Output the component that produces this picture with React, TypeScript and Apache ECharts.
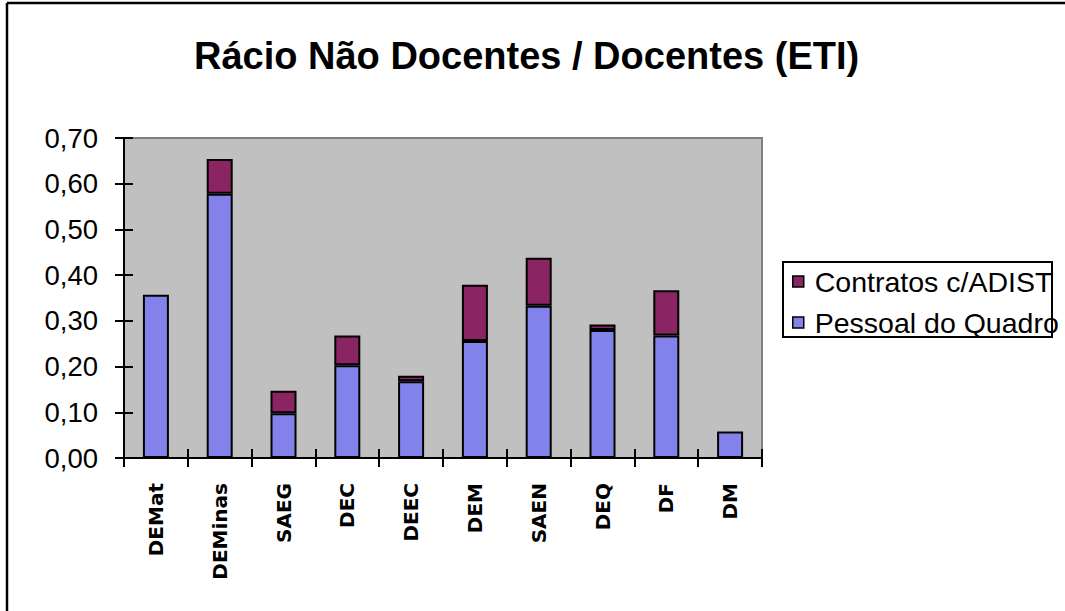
import React, { useEffect, useRef } from "react";
import * as echarts from "echarts";

const categories = ["DEMat", "DEMinas", "SAEG", "DEC", "DEEC", "DEM", "SAEN", "DEQ", "DF", "DM"];
const pessoalDoQuadro = [0.357, 0.578, 0.098, 0.203, 0.168, 0.256, 0.333, 0.28, 0.268, 0.058];
const contratosADIST = [0, 0.076, 0.049, 0.065, 0.012, 0.123, 0.105, 0.012, 0.099, 0];
const seriesNames = ["Contratos c/ADIST", "Pessoal do Quadro"];
const titleText = "Rácio Não Docentes / Docentes (ETI)";

const BLUE = "#8282ea";
const PURPLE = "#8b2463";
const FONT = "'Liberation Sans', Arial, sans-serif";

export default function App() {
  const ref = useRef<HTMLDivElement>(null);
  useEffect(() => {
    if (!ref.current) return;
    const chart = echarts.init(ref.current, null, { renderer: "svg" });
    const fmt = (v: number) => v.toFixed(2).replace(".", ",");
    chart.setOption({
      animation: false,
      backgroundColor: "#ffffff",
      textStyle: { fontFamily: FONT },
      title: {
        text: titleText,
        left: 194,
        top: 37,
        textStyle: { fontSize: 38, fontWeight: "bold", color: "#000", fontFamily: FONT },
        padding: 0,
      },
      graphic: [
        {
          type: "line",
          shape: { x1: 7, y1: 3, x2: 1065, y2: 3 },
          style: { stroke: "#000", lineWidth: 2.5 },
          z: 10,
        },
        {
          type: "line",
          shape: { x1: 7, y1: 3, x2: 7, y2: 611 },
          style: { stroke: "#000", lineWidth: 2.5 },
          z: 10,
        },
        {
          type: "rect",
          shape: { x: 783, y: 262, width: 269, height: 75 },
          style: { fill: "#fff", stroke: "#000", lineWidth: 2 },
          z: 1,
        },
      ],
      legend: {
        orient: "vertical",
        left: 792,
        top: 267,
        data: seriesNames,
        icon: "rect",
        itemWidth: 11,
        itemHeight: 11,
        itemGap: 12,
        z: 5,
        padding: 0,
        textStyle: { fontSize: 28.5, color: "#000", lineHeight: 28, padding: [0, 0, 0, 6], fontFamily: FONT },
        itemStyle: { borderColor: "#000", borderWidth: 1.5 },
      },
      grid: {
        left: 124,
        top: 138,
        width: 638,
        height: 320,
        show: true,
        backgroundColor: "#c0c0c0",
        borderColor: "#808080",
        borderWidth: 2,
      },
      xAxis: [
        {
          type: "category",
          data: categories,
          axisLine: { lineStyle: { color: "#000", width: 2 } },
          axisTick: { show: true, length: 9, lineStyle: { color: "#000", width: 2 } },
          axisLabel: {
            rotate: 90,
            margin: 25,
            fontSize: 20,
            fontWeight: "bold",
            color: "#000",
            fontFamily: "'DejaVu Sans', sans-serif",
            interval: 0,
          },
        },
        {
          type: "category",
          data: categories,
          position: "bottom",
          axisLine: { show: false },
          axisTick: { show: true, inside: true, length: 9, lineStyle: { color: "#000", width: 2 } },
          axisLabel: { show: false },
        },
      ],
      yAxis: [
        {
          type: "value",
          min: 0,
          max: 0.7,
          interval: 0.1,
          axisLine: { show: true, lineStyle: { color: "#000", width: 2 } },
          axisTick: { show: true, length: 9, lineStyle: { color: "#000", width: 2 } },
          splitLine: { show: false },
          axisLabel: { formatter: fmt, fontSize: 27.5, color: "#000", margin: 26 },
        },
        {
          type: "value",
          min: 0,
          max: 0.7,
          interval: 0.1,
          position: "left",
          axisLine: { show: false },
          axisTick: { show: true, inside: true, length: 9, lineStyle: { color: "#000", width: 2 } },
          splitLine: { show: false },
          axisLabel: { show: false },
        },
      ],
      series: [
        {
          name: seriesNames[1],
          type: "bar",
          stack: "total",
          data: pessoalDoQuadro,
          barWidth: 26,
          itemStyle: { color: BLUE, borderColor: "#000", borderWidth: 2 },
        },
        {
          name: seriesNames[0],
          type: "bar",
          stack: "total",
          data: contratosADIST.map((v) => (v > 0 ? v : null)),
          barWidth: 26,
          itemStyle: { color: PURPLE, borderColor: "#000", borderWidth: 2 },
        },
      ],
    });
    return () => chart.dispose();
  }, []);
  return <div ref={ref} style={{ position: "fixed", left: 0, top: 0, width: 1065, height: 611 }} />;
}
